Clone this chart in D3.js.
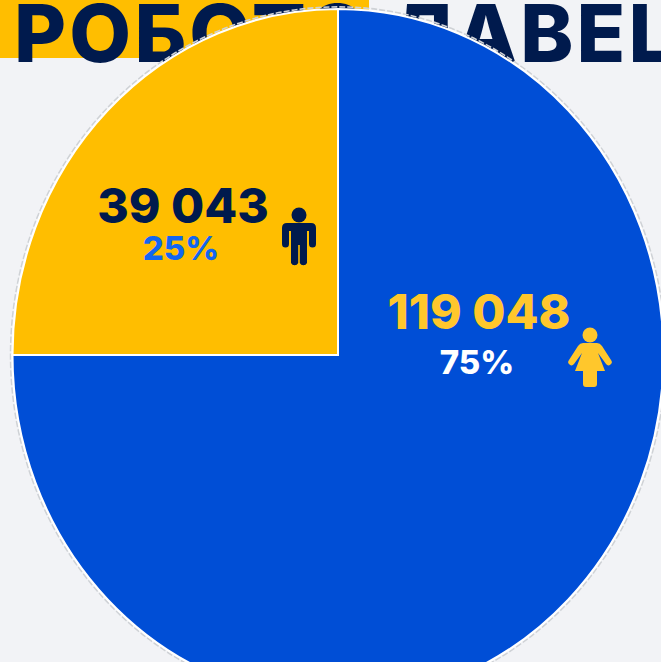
<!DOCTYPE html>
<html>
<head>
<meta charset="utf-8">
<script src="https://cdn.jsdelivr.net/npm/d3@7"></script>
<style>
    html, body { margin: 0; padding: 0; background: #f2f3f6; overflow: hidden; }
</style>
</head>
<body>
<svg id="chart"></svg>
<script>
// Pie data
const categories = ["Women", "Men"];
const shares = [75, 25];
const countLabels = ["119 048", "39 043"];
const shareLabels = ["75%", "25%"];
const titleText = "РОБОТО ЛАВЕL";

const width = 661;
const height = 662;

const sliceColors = { "Women": "#004ed6", "Men": "#ffbe00" };
const countColors = { "Women": "#ffc72c", "Men": "#001a4d" };
const shareColors = { "Women": "#ffffff", "Men": "#1266f1" };

const svg = d3.select("#chart")
    .attr("width", width)
    .attr("height", height);

// Yellow band behind the title
svg.append("rect")
    .attr("width", 369)
    .attr("height", 58)
    .attr("fill", "#ffbe00");

svg.append("text")
    .attr("x", 14)
    .attr("y", 62)
    .attr("font-family", "Inter")
    .attr("font-weight", 800)
    .attr("font-size", 80)
    .attr("letter-spacing", 3.2)
    .attr("fill", "#001a4d")
    .text(titleText);

// The pie is a little taller than wide in the picture
const radius = 325.5;
const pieGroup = svg.append("g")
    .attr("transform", "translate(338,355) scale(1,1.063)");

const pie = d3.pie().sort(null).value(d => d);
const arc = d3.arc().innerRadius(0).outerRadius(radius);
const dataForPie = pie(shares);

// faint grey outline around the pie
pieGroup.append("circle")
    .attr("r", radius + 2)
    .attr("fill", "none")
    .attr("stroke", "#cfd2d6")
    .attr("stroke-width", 1.5)
    .attr("stroke-dasharray", "6,2");

pieGroup.selectAll("path")
    .data(dataForPie)
    .enter()
    .append("path")
    .attr("d", arc)
    .attr("fill", (d, i) => sliceColors[categories[i]])
    .attr("stroke", "#ffffff")
    .attr("stroke-width", 2);

// Labels, placed relative to each slice
const labelPos = { "Women": [479, 329, 477, 374], "Men": [183, 223, 181, 260] };

categories.forEach((c, i) => {
    const p = labelPos[c];
    svg.append("text")
        .attr("x", p[0])
        .attr("y", p[1])
        .attr("text-anchor", "middle")
        .attr("font-family", "Inter")
        .attr("font-weight", 800)
        .attr("font-size", 48)
        .attr("fill", countColors[c])
        .text(countLabels[i]);
    svg.append("text")
        .attr("x", p[2])
        .attr("y", p[3])
        .attr("text-anchor", "middle")
        .attr("font-family", "Inter")
        .attr("font-weight", 800)
        .attr("font-size", 33)
        .attr("fill", shareColors[c])
        .text(shareLabels[i]);
});

// Man icon
const man = svg.append("g").attr("transform", "translate(299,238)").attr("fill", "#001a4d");
man.append("circle").attr("cy", -23).attr("r", 7.5);
man.append("path").attr("d", "M-12,-15 H12 Q17,-15 17,-10 V6 A3.5,3.5 0 0 1 10,6 V-7 H8 V25 A4,4 0 0 1 0.8,25 V7 H-0.8 V25 A4,4 0 0 1 -8,25 V-7 H-10 V6 A3.5,3.5 0 0 1 -17,6 V-10 Q-17,-15 -12,-15 Z");

// Woman icon
const woman = svg.append("g").attr("transform", "translate(590,358)").attr("fill", "#ffc72c");
woman.append("circle").attr("cy", -23).attr("r", 7.5);
woman.append("path").attr("d", "M-7,-15 H7 Q10,-15 12,-12 L21,2 A3,3 0 0 1 16,6 L8,-5 L15,13 H7 V26 A3,3 0 0 1 4,29 H-4 A3,3 0 0 1 -7,26 V13 H-15 L-8,-5 L-16,6 A3,3 0 0 1 -21,2 L-12,-12 Q-10,-15 -7,-15 Z");
</script>
</body>
</html>
